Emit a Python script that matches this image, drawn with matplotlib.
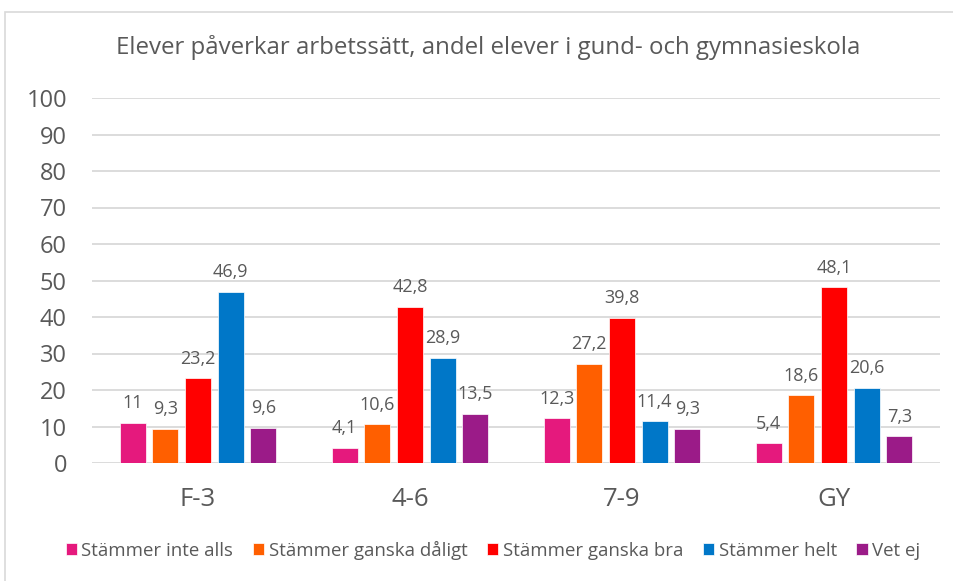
import numpy as np
import matplotlib.pyplot as plt
from matplotlib.patches import Rectangle

plt.rcParams['font.family'] = ['Open Sans', 'DejaVu Sans']

categories = ["F-3", "4-6", "7-9", "GY"]
series = ["Stämmer inte alls", "Stämmer ganska dåligt", "Stämmer ganska bra",
          "Stämmer helt", "Vet ej"]
colors = ["#E5197D", "#FF5F00", "#FF0000", "#0077C8", "#9B1B88"]

inte_alls = [11, 4.1, 12.3, 5.4]
ganska_daligt = [9.3, 10.6, 27.2, 18.6]
ganska_bra = [23.2, 42.8, 39.8, 48.1]
helt = [46.9, 28.9, 11.4, 20.6]
vet_ej = [9.6, 13.5, 9.3, 7.3]
values = [inte_alls, ganska_daligt, ganska_bra, helt, vet_ej]

text_col = "#595959"


def fmt(v):
    # swedish decimal comma, whole numbers without decimals
    if float(v).is_integer():
        return str(int(v))
    return f"{v:.1f}".replace(".", ",")


fig = plt.figure(figsize=(9.54, 5.81), dpi=100)
fig.patches.append(Rectangle((5 / 954, -0.01), 1.0, 1 - 12 / 581 + 0.01,
                             transform=fig.transFigure, fill=False,
                             edgecolor="#d9d9d9", lw=1.2))
ax = fig.add_axes([92 / 954, 1 - 463 / 581, 848 / 954, 365 / 581])

x = np.arange(len(categories))
step = 0.154
width = 0.123
for i, (name, vals, c) in enumerate(zip(series, values, colors)):
    pos = x + (i - 2) * step
    bars = ax.bar(pos, vals, width, color=c, label=name, zorder=3,
                  edgecolor="white", linewidth=0.5)
    for b, v in zip(bars, vals):
        ax.text(b.get_x() + b.get_width() / 2, v + 4.0, fmt(v),
                ha="center", va="baseline", fontsize=13, color=text_col)

ax.set_xlim(-0.5, len(categories) - 0.5)
ax.set_ylim(0, 100)
ax.set_yticks(range(0, 101, 10))
ax.yaxis.grid(True, color="#d9d9d9", lw=1.3, zorder=0)
ax.set_xticks(x)
ax.set_xticklabels(categories, fontsize=18.5, color=text_col)
ax.tick_params(axis="y", labelsize=17, colors=text_col, length=0, pad=18)
ax.tick_params(axis="x", length=0, pad=17)
for s in ax.spines.values():
    s.set_visible(False)
ax.set_axisbelow(True)

fig.text(488 / 954, 1 - 48 / 581, "Elever påverkar arbetssätt, andel elever i gund- och gymnasieskola",
         ha="center", va="center", fontsize=17.3, color=text_col)

fig.legend(loc="center", bbox_to_anchor=(493 / 954, 1 - 550 / 581), ncol=5,
           frameon=False, fontsize=13.4, labelcolor=text_col,
           handlelength=0.6, handleheight=0.6, handletextpad=0.25,
           columnspacing=1.05)

fig.savefig("out.png", dpi=100)
